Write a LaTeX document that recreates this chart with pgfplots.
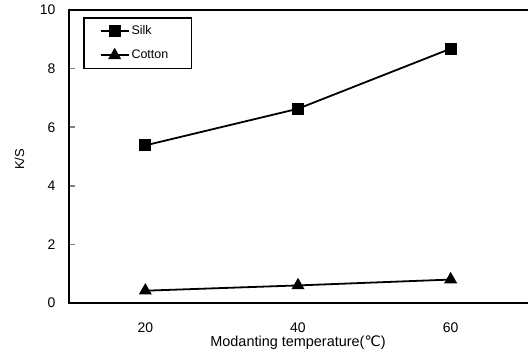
\documentclass[border=0pt]{standalone}
\usepackage{fontspec}
\setmainfont{Liberation Sans}
\newfontfamily\dejavu{DejaVu Sans}
\usepackage{pgfplots}
\pgfplotsset{compat=1.18}
\begin{document}
\begin{tikzpicture}
\path[use as bounding box] (-69bp,-49bp) rectangle (459bp,303bp);
\begin{axis}[
  at={(0bp,0bp)}, anchor=south west,
  scale only axis, width=464bp, height=293bp,
  xmin=10, xmax=70.786, ymin=0, ymax=10,
  xtick={20,40,60}, ytick={0,2,4,6,8,10},
  /pgf/number format/assume math mode=true,
  axis line style={line width=1.8bp},
  tick align=inside, ytick pos=left, xtick pos=bottom,
  major tick length=6bp,
  xtick style={draw=none},
  ytick style={line width=1.5bp},
  ticklabel style={font=\fontsize{14}{16}\selectfont},
  yticklabel style={xshift=-10bp},
  xticklabel style={anchor=center, inner sep=0pt, yshift=-24.5bp},
  xlabel={Modanting temperature({\dejavu ℃})},
  xlabel style={font=\fontsize{14.5}{16}\selectfont, inner sep=0pt, at={(axis cs:40,0)}, yshift=-40bp, anchor=center},
  ylabel={K/S},
  ylabel style={font=\fontsize{13}{15}\selectfont, at={(axis description cs:-0.1066,0.49)}, anchor=center},
  legend style={at={(axis description cs:0.0302,0.976)}, anchor=north west,
    draw=black, line width=1.5bp, inner xsep=16bp, inner ysep=6bp,
    font=\fontsize{12.5}{14}\selectfont, row sep=10bp,
    nodes={inner sep=2bp, text width=42bp}},
  legend cell align=left,
  legend image code/.code={\draw[mark repeat=2,mark phase=2,#1] plot coordinates {(0bp,0bp) (14bp,0bp) (28bp,0bp)};},
]
\addplot[black, line width=1.8bp, mark=square*, mark size=5bp, mark options={solid}] coordinates {(20,5.38) (40,6.63) (60,8.68)};
\addlegendentry{Silk}
\addplot[black, line width=1.8bp, mark=triangle*, mark size=5.8bp] coordinates {(20,0.42) (40,0.6) (60,0.8)};
\addlegendentry{Cotton}
\end{axis}
\end{tikzpicture}
\end{document}
